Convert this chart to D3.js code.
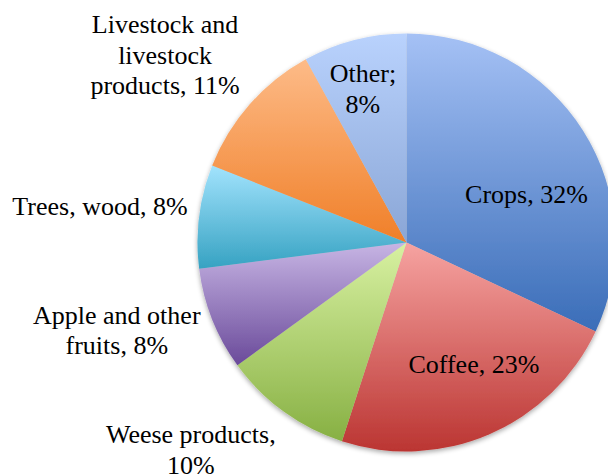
<!DOCTYPE html>
<html>
<head>
<meta charset="utf-8">
<script src="https://cdn.jsdelivr.net/npm/d3@7"></script>
<style>
  html, body { margin: 0; padding: 0; background: #fff; overflow: hidden; }
  svg { display: block; }
</style>
</head>
<body>
<svg id="chart" width="608" height="476"></svg>
<script>
// Share of income by source (percent), clockwise from 12 o'clock
const categories = ["Crops", "Coffee", "Weese products", "Apple and other fruits",
                    "Trees, wood", "Livestock and livestock products", "Other"];
const shares = [32, 23, 10, 8, 8, 11, 8];
const labelLines = [
  ["Crops, 32%"],
  ["Coffee, 23%"],
  ["Weese products,", "10%"],
  ["Apple and other", "fruits, 8%"],
  ["Trees, wood, 8%"],
  ["Livestock and", "livestock", "products, 11%"],
  ["Other;", "8%"]
];
// light (top) and dark (bottom) colour of each slice's vertical gradient
const topColors    = ["#a5c1f5", "#f6a3a1", "#d8f1a2", "#c7b5e4", "#a2e3fd", "#fdbb88", "#b9d2fd"];
const bottomColors = ["#3a6db8", "#bb3532", "#87b043", "#6a4a9a", "#36a2c2", "#f07f28", "#8aa6d6"];
// label placement: radius as a fraction of the pie radius, angle shift from the slice middle (deg)
const labelRadius = [0.62, 0.665, 1.43, 1.448, 1.477, 1.464, 0.766];
const labelShift  = [10.2, -5.6, 10.2, 4.8, -0.4, -3.5, -1.4];

const FONT = "'Liberation Serif', 'Times New Roman', Times, serif";

const svg = d3.select("#chart");
const cx = 406.5, cy = 242.5, R = 209;
const lineH = 30.4;

const defs = svg.append("defs");
shares.forEach((_, i) => {
  const g = defs.append("linearGradient")
    .attr("id", "grad" + i)
    .attr("x1", 0).attr("y1", 0).attr("x2", 0).attr("y2", 1);
  g.append("stop").attr("offset", "0%").attr("stop-color", topColors[i]);
  g.append("stop").attr("offset", "100%").attr("stop-color", bottomColors[i]);
});
const shadow = defs.append("filter").attr("id", "shadow")
  .attr("x", "-10%").attr("y", "-10%").attr("width", "120%").attr("height", "120%");
shadow.append("feGaussianBlur").attr("in", "SourceAlpha").attr("stdDeviation", 2.5).attr("result", "b");
shadow.append("feOffset").attr("in", "b").attr("dx", 0).attr("dy", 2).attr("result", "o");
shadow.append("feComponentTransfer").attr("in", "o").attr("result", "s")
  .append("feFuncA").attr("type", "linear").attr("slope", 0.35);
const merge = shadow.append("feMerge");
merge.append("feMergeNode").attr("in", "s");
merge.append("feMergeNode").attr("in", "SourceGraphic");

const pie = d3.pie().sort(null).value(d => d);
const arcs = pie(shares);
const arc = d3.arc().innerRadius(0).outerRadius(R);

const g = svg.append("g").attr("transform", `translate(${cx},${cy})`);
g.append("g").attr("filter", "url(#shadow)")
  .selectAll("path")
  .data(arcs)
  .join("path")
  .attr("d", arc)
  .attr("fill", (d, i) => `url(#grad${i})`)
  .attr("stroke", "none");

// data labels
arcs.forEach((d, i) => {
  const a = (d.startAngle + d.endAngle) / 2 + labelShift[i] * Math.PI / 180;
  const r = R * labelRadius[i];
  const lx = r * Math.sin(a);
  const ly = -r * Math.cos(a);
  const lines = labelLines[i];
  const firstBase = ly - (lines.length - 1) * lineH / 2 + 9;
  const t = g.append("text")
    .attr("text-anchor", "middle")
    .style("font-family", FONT)
    .style("font-size", "26px")
    .attr("fill", "#000");
  lines.forEach((s, k) => {
    t.append("tspan").attr("x", lx).attr("y", firstBase + k * lineH).text(s);
  });
});
</script>
</body>
</html>
